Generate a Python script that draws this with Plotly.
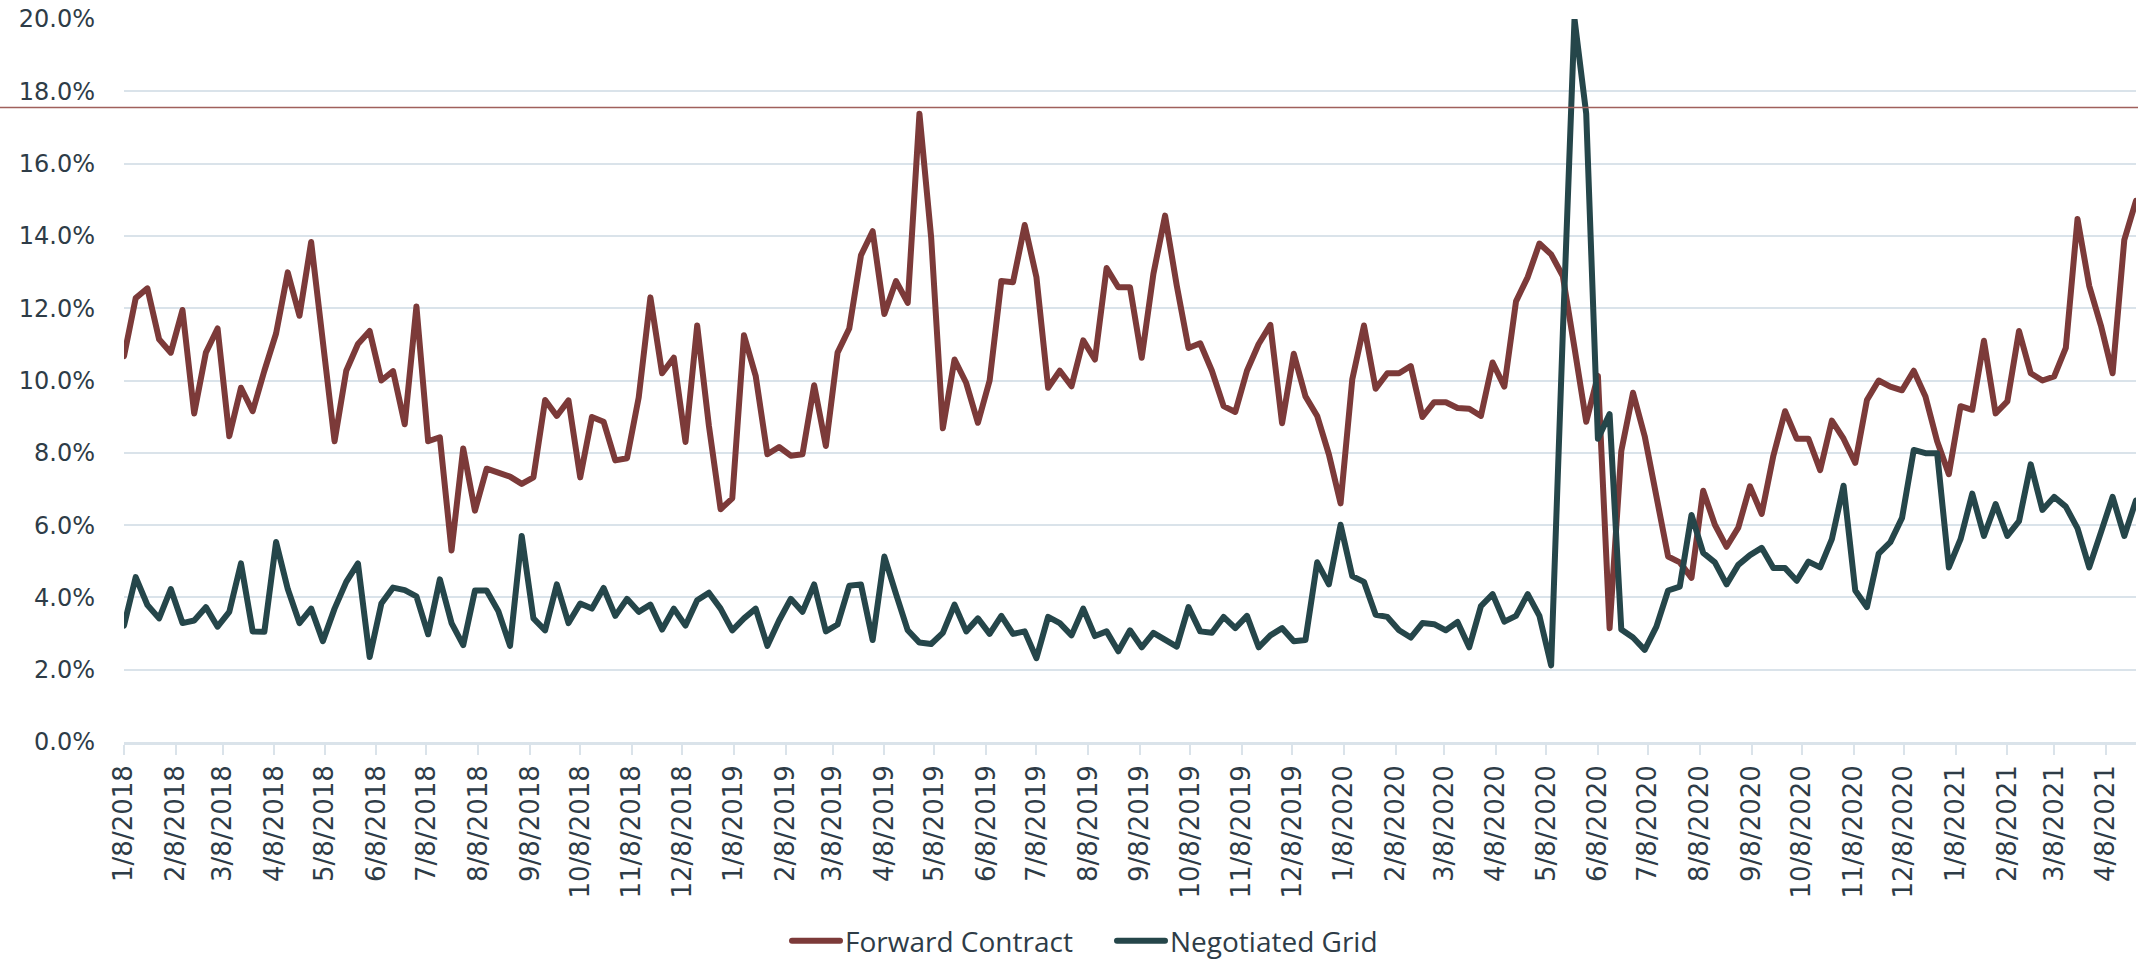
import pandas as pd
import plotly.graph_objects as go

# Weekly series (percent), starting Monday 1/8/2018
start_date = "2018-01-08"
forward_contract = [
    10.67, 12.28, 12.55, 11.14, 10.77, 11.95, 9.09, 10.77, 11.44, 8.46,
    9.80, 9.15, 10.27, 11.30, 12.99, 11.79, 13.83, 11.0, 8.32, 10.27,
    11.01, 11.37, 10.0, 10.26, 8.79, 12.05, 8.32, 8.43, 5.30, 8.12,
    6.40, 7.56, 7.45, 7.34, 7.14, 7.32, 9.46, 9.02, 9.45, 7.32,
    8.99, 8.86, 7.79, 7.85, 9.53, 12.30, 10.20, 10.63, 8.30, 11.52,
    8.75, 6.44, 6.74, 11.25, 10.13, 7.96, 8.16, 7.92, 7.96, 9.87,
    8.19, 10.77, 11.44, 13.46, 14.13, 11.84, 12.75, 12.15, 17.38, 13.96,
    8.68, 10.58, 9.93, 8.83, 10.0, 12.75, 12.72, 14.30, 12.86, 9.80,
    10.27, 9.84, 11.11, 10.58, 13.11, 12.58, 12.58, 10.63, 12.95, 14.56,
    12.62, 10.90, 11.03, 10.27, 9.29, 9.13, 10.27, 11.01, 11.54, 8.82,
    10.74, 9.56, 9.02, 7.96, 6.60, 10.03, 11.52, 9.77, 10.20, 10.20,
    10.40, 8.99, 9.40, 9.40, 9.24, 9.22, 9.02, 10.50, 9.83, 12.19,
    12.86, 13.79, 13.49, 12.89, 10.9, 8.86, 10.13, 3.15, 8.05, 9.66,
    8.46, 6.78, 5.13, 4.97, 4.54, 6.95, 6.01, 5.40, 5.93, 7.07,
    6.31, 7.92, 9.15, 8.39, 8.39, 7.52, 8.89, 8.39, 7.72, 9.46,
    10.0, 9.83, 9.73, 10.27, 9.56, 8.32, 7.41, 9.29, 9.19, 11.10,
    9.09, 9.42, 11.37, 10.20, 10.0, 10.11, 10.90, 14.47, 12.62, 11.52,
    10.20, 13.89, 14.97,
]
negotiated_grid = [
    3.22, 4.56, 3.79, 3.42, 4.23, 3.29, 3.36, 3.73, 3.19, 3.60,
    4.94, 3.06, 3.05, 5.53, 4.23, 3.29, 3.69, 2.79, 3.69, 4.43,
    4.94, 2.35, 3.83, 4.27, 4.20, 4.03, 2.98, 4.50, 3.29, 2.68,
    4.19, 4.19, 3.62, 2.66, 5.70, 3.42, 3.09, 4.36, 3.29, 3.83,
    3.69, 4.26, 3.49, 3.96, 3.60, 3.80, 3.11, 3.69, 3.22, 3.92,
    4.13, 3.69, 3.09, 3.42, 3.69, 2.66, 3.36, 3.96, 3.60, 4.36,
    3.06, 3.25, 4.32, 4.36, 2.82, 5.13, 4.09, 3.09, 2.75, 2.71,
    3.02, 3.80, 3.06, 3.42, 2.99, 3.49, 2.99, 3.06, 2.32, 3.46,
    3.29, 2.95, 3.69, 2.93, 3.06, 2.51, 3.09, 2.62, 3.02, 2.85,
    2.64, 3.73, 3.06, 3.02, 3.46, 3.15, 3.49, 2.62, 2.95, 3.15,
    2.79, 2.82, 4.97, 4.36, 6.01, 4.59, 4.43, 3.52, 3.46, 3.09,
    2.89, 3.29, 3.26, 3.09, 3.32, 2.62, 3.76, 4.09, 3.33, 3.49,
    4.09, 3.49, 2.12, 11.3, 20.0, 17.38, 8.39, 9.07, 3.11, 2.89,
    2.55, 3.19, 4.19, 4.30, 6.28, 5.23, 4.97, 4.36, 4.90, 5.17,
    5.37, 4.81, 4.81, 4.46, 4.99, 4.83, 5.61, 7.09, 4.19, 3.73,
    5.21, 5.53, 6.20, 8.08, 7.99, 7.99, 4.83, 5.61, 6.87, 5.70,
    6.58, 5.70, 6.11, 7.68, 6.42, 6.78, 6.51, 5.91, 4.83, 5.80,
    6.78, 5.70, 6.68,
]
series_names = ["Forward Contract", "Negotiated Grid"]
threshold = 17.55
y_ticks = [0, 2, 4, 6, 8, 10, 12, 14, 16, 18, 20]
y_tick_labels = [f"{v:.1f}%" for v in y_ticks]

dates = pd.date_range(start_date, periods=len(forward_contract), freq="7D")

W, H = 2138, 961
ML, MR, MT, MB = 124, 2, 19, 219
plot_w = W - ML - MR
plot_h = H - MT - MB

RED = "#7C3A39"
GREEN = "#25464A"
GRID = "#DAE3EA"
TXT = "#2E3C47"

fig = go.Figure()
fig.add_trace(go.Scatter(x=dates, y=forward_contract, mode="lines", name=series_names[0],
                         line=dict(color=RED, width=6)))
fig.add_trace(go.Scatter(x=dates, y=negotiated_grid, mode="lines", name=series_names[1],
                         line=dict(color=GREEN, width=6)))

fig.add_shape(type="line", xref="paper", yref="y",
              x0=-ML / plot_w, x1=1 + MR / plot_w, y0=threshold, y1=threshold,
              line=dict(color="#A0605C", width=1.5), layer="above")

fig.update_layout(
    width=W, height=H,
    margin=dict(l=ML, r=MR, t=MT, b=MB, autoexpand=False),
    paper_bgcolor="white", plot_bgcolor="white",
    showlegend=True,
    legend=dict(orientation="h", x=(1112 - ML) / plot_w, xanchor="center",
                y=(plot_h - (941 - MT)) / plot_h, yanchor="middle",
                font=dict(family="Open Sans", size=28, color=TXT),
                itemwidth=48, entrywidth=262, bgcolor="rgba(0,0,0,0)"),
    font=dict(family="DejaVu Sans", color=TXT),
)
fig.update_xaxes(
    type="date",
    range=[dates[0], dates[-1]],
    tick0=start_date, dtick="M1", tickformat="%-m/%-d/%Y",
    tickangle=-90,
    tickfont=dict(family="DejaVu Sans", size=26, color=TXT),
    showgrid=False, showline=True, linecolor=GRID, linewidth=2.5,
    ticks="outside", ticklen=10, tickwidth=2, tickcolor=GRID,
    ticklabelstandoff=0,
)
fig.update_yaxes(
    range=[0, 20],
    tickvals=y_ticks, ticktext=y_tick_labels,
    tickfont=dict(family="DejaVu Sans", size=24, color=TXT),
    showgrid=True, gridcolor=GRID, gridwidth=2,
    zeroline=False, showline=False, ticks="",
    ticklabelstandoff=28,
)

post = """
document.body.style.margin='0';
document.body.style.overflow='hidden';
document.querySelectorAll('.js-line').forEach(function(p){p.style.strokeLinejoin='round';p.style.strokeLinecap='round';});
"""
fig.write_html("out.html", post_script=post, config={"displayModeBar": False})
